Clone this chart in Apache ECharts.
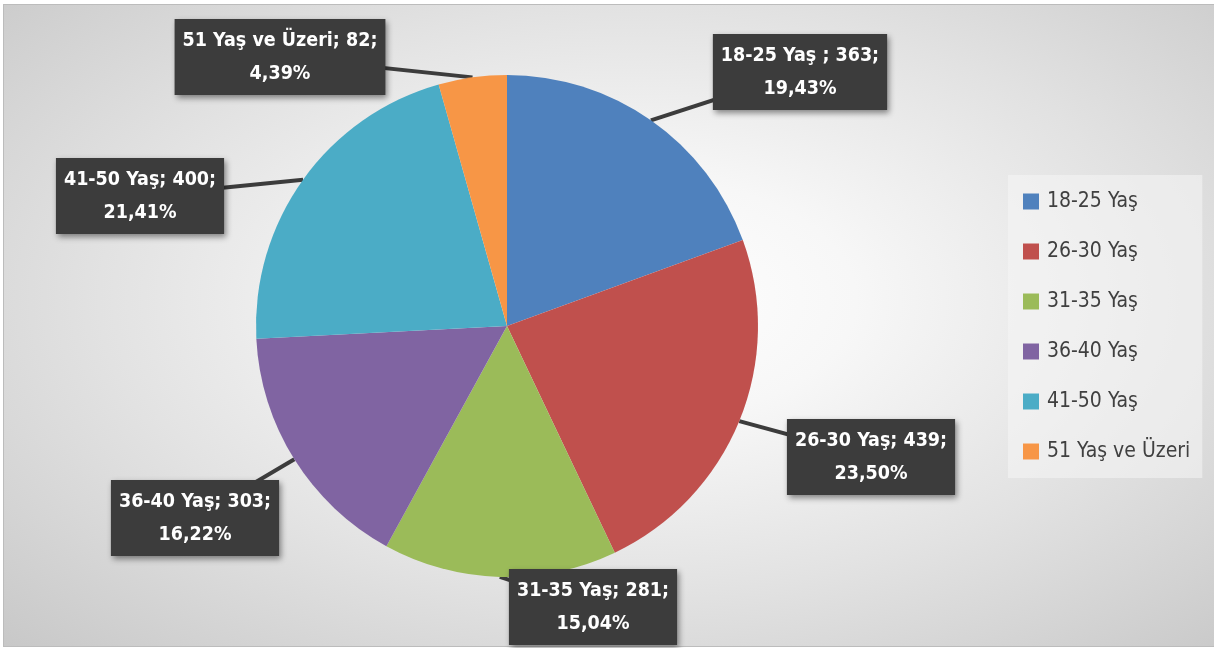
<!DOCTYPE html>
<html>
<head>
<meta charset="utf-8">
<script src="https://cdn.jsdelivr.net/npm/echarts@6/dist/echarts.min.js"></script>
<style>
  html, body { margin: 0; padding: 0; background: #ffffff; }
  #bg { position: absolute; left: 3px; top: 4px; width: 1210px; height: 641px;
        border: 1px solid #bcbcbc; border-right: none;
        background: radial-gradient(ellipse farthest-corner at 52% 46%, #ffffff 0%, #f7f7f7 25%, #e2e2e2 60%, #c8c8c8 100%); }
  #chart { position: absolute; left: 0; top: 0; width: 1214px; height: 648px; }
</style>
</head>
<body>
<div id="bg"></div>
<div id="chart"></div>
<script>
const categories = ['18-25 Yaş', '26-30 Yaş', '31-35 Yaş', '36-40 Yaş', '41-50 Yaş', '51 Yaş ve Üzeri'];
const values = [363, 439, 281, 303, 400, 82];
const labelSeparators = [' ; ', '; ', '; ', '; ', '; ', '; '];
const colors = ['#4F81BD', '#C0504D', '#9BBB59', '#8064A2', '#4BACC6', '#F79646'];

// label box centers (layout only)
const labelCenters = [[800, 72], [871, 457], [593, 607], [195, 518], [140, 196], [280, 57]];

const total = values.reduce((a, b) => a + b, 0);
const FONT = "'Liberation Sans Narrow', 'DejaVu Sans Condensed', sans-serif";

const chart = echarts.init(document.getElementById('chart'));
chart.setOption({
  animation: false,
  backgroundColor: 'transparent',
  color: colors,
  legend: {
    orient: 'vertical',
    left: 1008,
    top: 175,
    padding: [16, 12, 16, 15],
    itemGap: 29,
    itemWidth: 16,
    itemHeight: 16,
    icon: 'rect',
    backgroundColor: 'rgba(245,245,245,0.55)',
    textStyle: { fontFamily: FONT, fontSize: 21, color: '#404040', padding: [0, 0, 0, 3] },
    data: categories
  },
  series: [{
    type: 'pie',
    center: [507, 326],
    radius: 251,
    startAngle: 90,
    clockwise: true,
    data: categories.map((c, i) => ({ name: c, value: values[i] })),
    itemStyle: { borderWidth: 0 },
    label: {
      show: true,
      position: 'outside',
      formatter: p => p.name + labelSeparators[p.dataIndex] + p.value + ';\n' +
        (p.value / total * 100).toFixed(2).replace('.', ',') + '%',
      fontFamily: FONT,
      fontSize: 19.5,
      fontWeight: 'bold',
      lineHeight: 33,
      color: '#ffffff',
      align: 'center',
      backgroundColor: '#3c3c3c',
      padding: [5, 8, 5, 8],
      shadowColor: 'rgba(0,0,0,0.45)',
      shadowBlur: 6,
      shadowOffsetX: 2,
      shadowOffsetY: 3
    },
    labelLine: {
      show: true,
      length: 10,
      length2: 10,
      lineStyle: { color: '#3c3c3c', width: 4 }
    },
    labelLayout: function (params) {
      const c = labelCenters[params.dataIndex];
      const tip = params.labelLinePoints ? params.labelLinePoints[0] : c;
      return {
        x: c[0], y: c[1], align: 'center', verticalAlign: 'middle',
        labelLinePoints: [tip, c, c]
      };
    }
  }]
});
</script>
</body>
</html>
